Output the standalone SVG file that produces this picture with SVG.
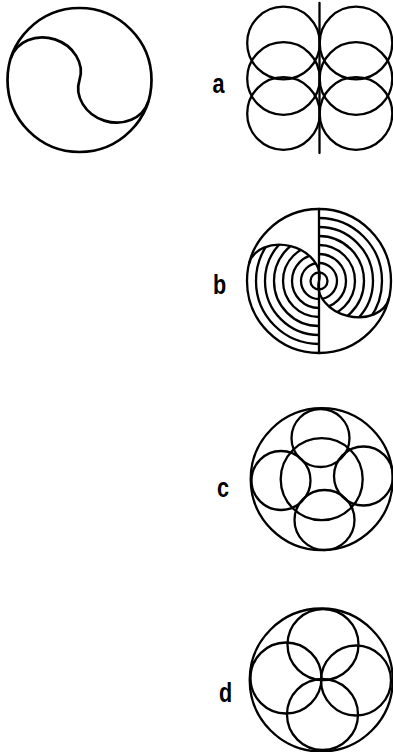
<svg xmlns="http://www.w3.org/2000/svg" width="393" height="752" viewBox="0 0 393 752">
<style>
.s{fill:none;stroke:#000;stroke-width:2.3;stroke-linecap:round;stroke-linejoin:round}
.t{stroke-width:2.7}
.lbl{font-family:"Liberation Sans",Arial,sans-serif;font-weight:bold;font-size:27px;fill:#000}
</style>
<defs>
<clipPath id="bRight"><path d="M319 281 L319 209 A72 72 0 0 1 388.9 298.4 A36 27 14 0 1 319 281 Z"/></clipPath>
<clipPath id="bLeft"><path d="M319 281 L319 353 A72 72 0 0 1 249.1 263.6 A36 27 14 0 1 319 281 Z"/></clipPath>
</defs>
<rect width="393" height="752" fill="#fff"/>

<g id="yinyang">
<circle class="s t" cx="79.5" cy="80" r="72"/>
<path class="s t" d="M11 57.8 A36 31 18 0 1 79.5 80 A36 31 18 0 0 148 102.2"/>
</g>

<g id="fig-a">
<circle class="s" cx="283.5" cy="43" r="36.3"/>
<circle class="s" cx="283.5" cy="78.5" r="36.3"/>
<circle class="s" cx="283.5" cy="113.5" r="36.3"/>
<circle class="s" cx="356" cy="43" r="36.3"/>
<circle class="s" cx="356" cy="78.5" r="36.3"/>
<circle class="s" cx="356" cy="113.5" r="36.3"/>
<line class="s" x1="319.5" y1="3" x2="319.5" y2="153" stroke-width="3"/>
</g>

<g id="fig-b">
<g clip-path="url(#bRight)">
<path class="s" d="M319 263 A18 18 0 0 1 319 299 M319 254 A27 27 0 0 1 319 308 M319 245 A36 36 0 0 1 319 317 M319 236 A45 45 0 0 1 319 326 M319 227 A54 54 0 0 1 319 335 M319 218 A63 63 0 0 1 319 344"/>
</g>
<g clip-path="url(#bLeft)">
<path class="s" d="M319 299 A18 18 0 0 1 319 263 M319 308 A27 27 0 0 1 319 254 M319 317 A36 36 0 0 1 319 245 M319 326 A45 45 0 0 1 319 236 M319 335 A54 54 0 0 1 319 227 M319 344 A63 63 0 0 1 319 218"/>
</g>
<circle class="s" cx="319" cy="281" r="72"/>
<circle class="s" cx="319" cy="281" r="8.5"/>
<line class="s" x1="319" y1="209" x2="319" y2="353"/>
<path class="s" d="M249.1 263.6 A36 27 14 0 1 319 281 A36 27 14 0 0 388.9 298.4"/>
</g>

<g id="fig-c">
<circle class="s" cx="321.7" cy="479.2" r="71"/>
<circle class="s" cx="321.7" cy="479.2" r="41"/>
<circle class="s" cx="320.5" cy="438" r="29"/>
<circle class="s" cx="363.5" cy="476" r="29.5"/>
<circle class="s" cx="324.5" cy="520" r="30"/>
<circle class="s" cx="281" cy="480.5" r="29.5"/>
</g>

<g id="fig-d">
<circle class="s" cx="321.2" cy="680" r="71.5"/>
<circle class="s" cx="323" cy="644.5" r="35.5"/>
<circle class="s" cx="286" cy="678" r="35.5"/>
<circle class="s" cx="356" cy="680.5" r="35"/>
<circle class="s" cx="322.5" cy="714.5" r="35.5"/>
</g>

<g id="labels">
<text class="lbl" transform="translate(212.5,93) scale(0.8,1)">a</text>
<text class="lbl" transform="translate(213,294) scale(0.8,1)">b</text>
<text class="lbl" transform="translate(217,497) scale(0.8,1)">c</text>
<text class="lbl" transform="translate(219,702) scale(0.8,1)">d</text>
</g>
</svg>
